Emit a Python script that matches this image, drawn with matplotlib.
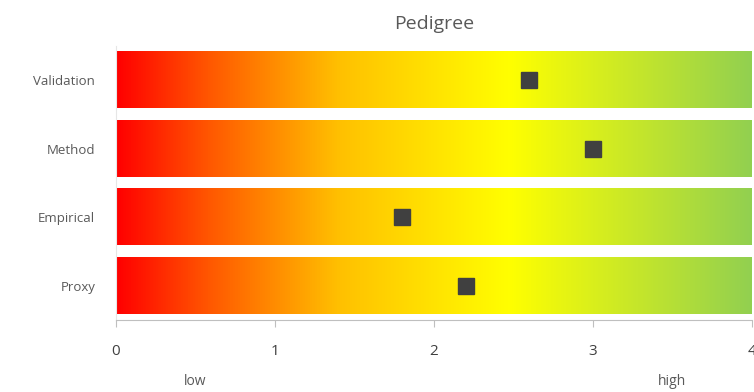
import matplotlib.pyplot as plt
import numpy as np
from matplotlib.colors import LinearSegmentedColormap

categories = ["Proxy", "Empirical", "Method", "Validation"]
scores = [2.2, 1.8, 3.0, 2.6]
x_ticks = [0, 1, 2, 3, 4]
end_labels = {"low": 0.5, "high": 3.5}

plt.rcParams['font.family'] = ['Open Sans', 'DejaVu Sans']

cmap = LinearSegmentedColormap.from_list(
    "pedigree",
    [(0.0, "#ff0000"), (0.15, "#ff5a00"), (0.35, "#ffc000"),
     (0.62, "#ffff00"), (1.0, "#92d050")])

fig = plt.figure(figsize=(7.54, 3.92), dpi=100)
ax = fig.add_axes([0.1538, 0.1837, 0.8435, 0.6990])

grad = np.linspace(0, 1, 512).reshape(1, -1)
for i, name in enumerate(categories):
    ax.imshow(grad, cmap=cmap, aspect="auto",
              extent=(0, 4, i - 0.41, i + 0.41), zorder=1)

ax.plot(scores, range(len(categories)), linestyle="none", marker="s",
        markersize=11.5, color="#404040", zorder=3)

ax.set_xlim(0, 4)
ax.set_ylim(-0.5, len(categories) - 0.5)
ax.set_xticks(x_ticks)
ax.set_xticklabels([str(t) for t in x_ticks], fontsize=11, color="#404040")
ax.set_yticks(range(len(categories)))
ax.set_yticklabels(categories, fontsize=9.5, color="#595959")
ax.tick_params(axis="y", length=0, pad=15)
ax.tick_params(axis="x", length=5, color="#bfbfbf", pad=12)

for s in ["top", "right"]:
    ax.spines[s].set_visible(False)
ax.spines["bottom"].set_color("#bfbfbf")
ax.spines["left"].set_color("#e6e6e6")

ax.set_title("Pedigree", fontsize=14, color="#595959", pad=12)

for label, xv in end_labels.items():
    ax.text(xv, -1.4, label, ha="center", va="center", fontsize=10,
            color="#595959", clip_on=False)

fig.savefig("out.png", dpi=100)
